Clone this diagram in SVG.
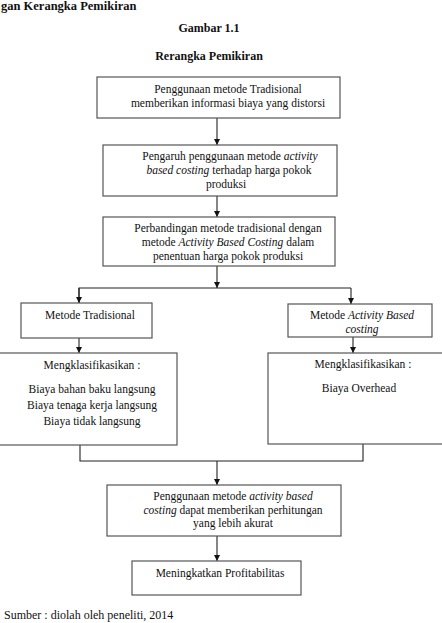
<svg xmlns="http://www.w3.org/2000/svg" width="442" height="623" viewBox="0 0 442 623">
<style>
text{font-family:"Liberation Serif","Times New Roman",serif;font-size:11.5px;fill:#111}
.c{text-anchor:middle}
.b{font-weight:bold;font-size:12px}
.i{font-style:italic}
.box{fill:#fff;stroke:#555;stroke-width:1.2}
.ln{fill:none;stroke:#222;stroke-width:1.1}
</style>
<defs>
<marker id="ah" viewBox="0 0 6 6" refX="6" refY="3" markerWidth="6" markerHeight="6" markerUnits="userSpaceOnUse" orient="auto">
<path d="M0,0 L6,3 L0,6 Z" fill="#111"/>
</marker>
</defs>
<text x="1" y="10" class="b" style="font-size:12.5px">gan Kerangka Pemikiran</text>
<text x="209" y="32" class="b c">Gambar 1.1</text>
<text x="209" y="60" class="b c">Rerangka Pemikiran</text>

<g id="connectors">
<line class="ln" x1="217" y1="118" x2="217" y2="145" marker-end="url(#ah)"/>
<line class="ln" x1="217" y1="196" x2="217" y2="217" marker-end="url(#ah)"/>
<line class="ln" x1="217" y1="266" x2="217" y2="288" marker-end="url(#ah)"/>
<polyline class="ln" points="79,303 79,288 351,288"/>
<line class="ln" x1="79" y1="288" x2="79" y2="303" marker-end="url(#ah)"/>
<line class="ln" x1="351" y1="288" x2="351" y2="304" marker-end="url(#ah)"/>
<line class="ln" x1="79" y1="338" x2="79" y2="353" marker-end="url(#ah)"/>
<line class="ln" x1="353" y1="337" x2="353" y2="353" marker-end="url(#ah)"/>
<polyline class="ln" points="80,445 80,461 363,461 363,444"/>
<line class="ln" x1="217" y1="461" x2="217" y2="485" marker-end="url(#ah)"/>
<line class="ln" x1="217" y1="536" x2="217" y2="561" marker-end="url(#ah)"/>
</g>

<g id="n1">
<rect class="box" x="97" y="77" width="243" height="41"/>
<text x="228" y="93" class="c">Penggunaan metode Tradisional</text>
<text x="228" y="107" class="c">memberikan informasi biaya yang distorsi</text>
</g>
<g id="n2">
<rect class="box" x="103" y="145" width="234" height="51"/>
<text x="230" y="160" class="c">Pengaruh penggunaan metode <tspan class="i">activity</tspan></text>
<text x="229" y="174" class="c"><tspan class="i">based costing</tspan> terhadap harga pokok</text>
<text x="226" y="188" class="c">produksi</text>
</g>
<g id="n3">
<rect class="box" x="103" y="217" width="232" height="49"/>
<text x="228" y="232" class="c">Perbandingan metode tradisional dengan</text>
<text x="228" y="246" class="c">metode  <tspan class="i">Activity Based Costing</tspan> dalam</text>
<text x="228" y="260" class="c">penentuan harga pokok produksi</text>
</g>
<g id="n4">
<rect class="box" x="21" y="303" width="131" height="35"/>
<text x="90" y="319" class="c">Metode Tradisional</text>
</g>
<g id="n5">
<rect class="box" x="288" y="304" width="144" height="33"/>
<text x="362" y="319" class="c">Metode <tspan class="i">Activity Based</tspan></text>
<text x="362" y="333" class="c i">costing</text>
</g>
<g id="n6">
<rect class="box" x="-2" y="353" width="179" height="92"/>
<text x="92" y="369" class="c">Mengklasifikasikan :</text>
<text x="92" y="393" class="c">Biaya bahan baku langsung</text>
<text x="92" y="409" class="c">Biaya tenaga kerja langsung</text>
<text x="92" y="425" class="c">Biaya tidak langsung</text>
</g>
<g id="n7">
<rect class="box" x="268" y="353" width="176" height="91"/>
<text x="363" y="368" class="c">Mengklasifikasikan :</text>
<text x="359" y="392" class="c">Biaya Overhead</text>
</g>
<g id="n8">
<rect class="box" x="107" y="485" width="234" height="51"/>
<text x="233" y="500" class="c">Penggunaan metode <tspan class="i">activity based</tspan></text>
<text x="233" y="514" class="c"><tspan class="i">costing</tspan> dapat memberikan perhitungan</text>
<text x="233" y="527" class="c">yang lebih akurat</text>
</g>
<g id="n9">
<rect class="box" x="132" y="561" width="169" height="34"/>
<text x="220" y="577" class="c">Meningkatkan Profitabilitas</text>
</g>
<text x="4" y="619" style="font-size:12px">Sumber : diolah oleh peneliti, 2014</text>
</svg>
